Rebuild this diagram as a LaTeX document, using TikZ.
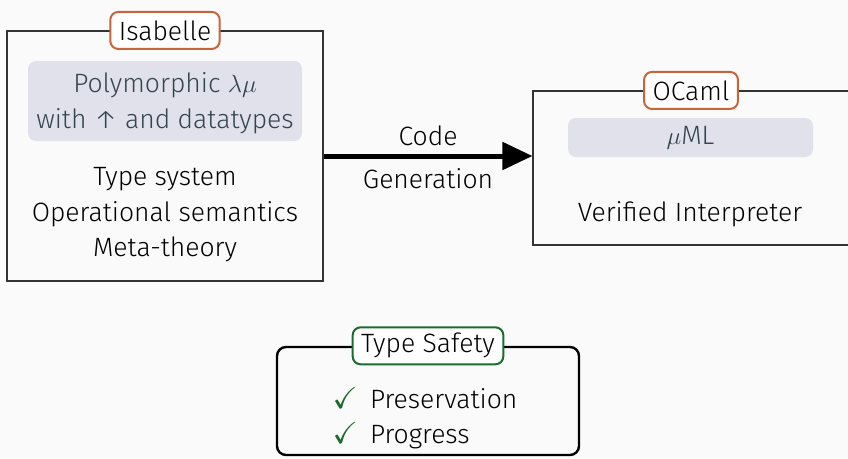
\documentclass[tikz,border=0pt]{standalone}
\usepackage{fontspec}
\usepackage{amssymb}
\setmainfont{Fira Sans}[UprightFont={* Light}]
\usetikzlibrary{arrows.meta,calc,positioning}
\definecolor{SlideBack}{HTML}{FAFAFA}
\definecolor{SlideFrame}{HTML}{333333}
\definecolor{SlideOrange}{HTML}{C8643A}
\definecolor{SlideGreen}{HTML}{1B6B2B}
\definecolor{SlideBlock}{HTML}{E0E1EA}
\definecolor{SlideSlate}{HTML}{35454F}
\newcommand{\tick}{{\color{SlideGreen}\scalebox{1.15}{$\checkmark$}}\hspace{12pt}}
\tikzset{
  toolbox/.style={draw=SlideFrame,line width=1.1pt,inner sep=0pt},
  tag/.style={draw=#1,fill=white,line width=2pt,rounded corners=8pt,
    minimum height=37pt,inner xsep=8.5pt,inner ysep=0pt},
  block/.style={fill=SlideBlock,rounded corners=8pt,text=SlideSlate,
    align=center,inner sep=0pt},
  plain/.style={align=center,text=black,inner sep=0pt},
}

\begin{document}
\begin{tikzpicture}[x=1pt,y=-1pt,font=\fontsize{26.5}{35.5}\selectfont]
        \fill[SlideBack] (0,0) rectangle (848,458);
        \useasboundingbox (0,0) rectangle (848,458);

        % Isabelle side
        \node[toolbox,minimum width=316pt,minimum height=250pt] (isa) at (165,156) {};
        \node[tag=SlideOrange] (isatag) at (isa.north) {Isabelle};
        \node[block,minimum width=274pt,minimum height=80pt] (calc) at (165,101) {};
        \node[plain,text=SlideSlate] (calctext) at (165,103)
          {Polymorphic $\lambda\mu$\\with ↑ and datatypes};
        \node[plain] (theory) at (165,215)
          {Type system\\Operational semantics\\Meta-theory};

        % OCaml side
        \node[toolbox,minimum width=316pt,minimum height=154pt] (ocaml) at (691,168) {};
        \node[tag=SlideOrange] (ocamltag) at (ocaml.north) {OCaml};
        \node[block,minimum width=245pt,minimum height=39pt] (muml) at (690.5,137.5)
          {$\mu$ML};
        \node[plain] (interp) at (690,214) {Verified Interpreter};

        \draw[-{Triangle[length=30pt,width=27pt]},line width=5pt]
          (isa.east) -- node[above=4pt]{Code} node[below=7pt]{Generation}
          (isa.east -| ocaml.west);

        % type safety
        \node[draw,line width=2.4pt,rounded corners=9pt,minimum width=302pt,
          minimum height=108pt] (safety) at (428,401) {};
        \node[tag=SlideGreen] (safetag) at (safety.north) {Type Safety};
        \node[align=left,inner sep=0pt] (props) at (425,418)
          {\tick Preservation\\ \tick Progress};
      \end{tikzpicture}
\end{document}
